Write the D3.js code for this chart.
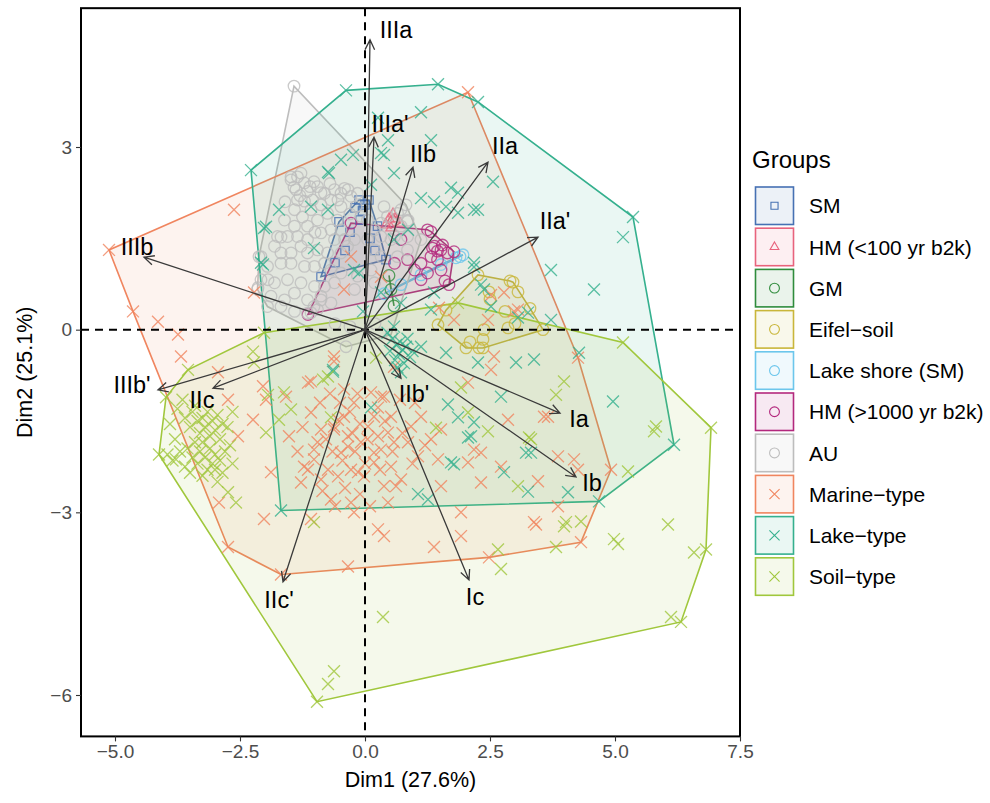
<!DOCTYPE html>
<html>
<head>
<meta charset="utf-8">
<script src="https://cdn.jsdelivr.net/npm/d3@7"></script>
<style>
body { margin: 0; background: #fff; }
text { font-family: "Liberation Sans", Arial, Helvetica, sans-serif; }
</style>
</head>
<body>
<svg width="990" height="803"></svg>
<script>
// ---- data (Dim1, Dim2 scores) ----
var groupNames = ["SM", "HM (<100 yr b2k)", "GM", "Eifel\u2212soil", "Lake shore (SM)",
  "HM (>1000 yr b2k)", "AU", "Marine\u2212type", "Lake\u2212type", "Soil\u2212type"];
var groupColors = ["#4671b3", "#e8637d", "#2f8c3c", "#c9b63a", "#6cc6ec",
  "#b3287d", "#bdbdbd", "#f0855f", "#35b08e", "#a0c73c"];
var groupShapes = ["square", "triangle", "circle", "circle", "circle",
  "circle", "circle", "cross", "cross", "cross"];

var smPts = [[-0.88,0.87],[-0.52,1.77],[-0.12,2.13],[0.08,2.13],[0.42,1.15],[-0.3,1.6],[-0.1,1.8],
  [0.1,1.5],[-0.4,1.3],[0.2,1.3],[-0.05,1.95],[0.0,2.05],[-0.6,1.1],[0.25,1.7],[-0.2,2.0]];
var hmRecentPts = [[0.42,1.72],[0.56,1.90],[0.70,1.75],[0.52,1.67],[0.6,1.82],[0.48,1.82]];
var gmPts = [[0.48,0.89],[0.58,0.39],[0.52,0.66]];
var eifelPts = [[2.26,0.90],[2.96,0.78],[3.06,0.62],[3.56,0.0],[2.36,-0.30],[2.02,-0.30],[1.46,0.08],
  [1.62,0.32],[2.86,0.03],[2.36,-0.16],[2.28,-0.30],[2.38,0.0],[2.48,0.62],[2.5,0.5],[2.8,0.3],
  [3.0,0.1],[2.1,-0.2],[2.9,0.8],[3.3,0.35]];
var shorePts = [[0.38,0.59],[1.96,1.23],[1.82,1.18],[1.52,1.07],[1.12,0.9],[0.72,0.74],[1.9,1.2]];
var hmOldPts = [[-1.14,0.25],[-0.28,1.75],[1.32,1.61],[1.78,1.28],[1.68,0.74],[1.25,1.64],[1.39,1.37],
  [1.52,1.31],[1.32,1.20],[1.45,1.15],[1.65,1.26],[1.12,1.09],[0.99,0.98],[1.25,0.93],[1.52,0.98],
  [1.12,0.82],[0.85,1.15],[0.72,1.48],[1.6,0.8],[0.59,1.09],[1.35,1.34],[1.45,1.29],[1.55,1.39]];
var auPts = [[-1.42,4.0],[-2.14,0.69],[-0.38,-0.28],[0.52,-0.08],[1.12,1.48],[0.82,2.05],
  [-1.48,2.46],[-1.35,2.51],[-1.21,2.41],[-1.38,2.30],[-1.15,2.27],[-0.95,2.35],[-0.81,2.24],
  [-1.05,2.13],[-1.21,2.11],[-1.35,2.13],[-1.41,1.97],[-1.08,1.97],[-0.88,2.05],[-0.68,2.13],
  [-0.61,2.30],[-0.48,2.24],[-0.41,2.32],[-0.28,2.19],[-0.15,2.24],[-0.18,2.02],[-0.48,2.02],
  [-0.75,1.91],[-0.95,1.80],[-1.15,1.70],[-1.41,1.70],[-1.61,1.80],[-1.75,1.53],[-1.55,1.53],
  [-1.35,1.53],[-1.15,1.48],[-0.88,1.59],[-0.68,1.64],[-0.61,1.48],[-0.48,1.64],[-0.41,1.48],
  [-0.21,1.48],[-0.35,1.37],[-0.48,1.26],[-0.75,1.26],[-0.95,1.31],[-1.15,1.26],[-1.28,1.37],
  [-1.48,1.26],[-1.68,1.26],[-1.81,1.37],[-2.08,1.20],[-1.95,1.04],[-1.68,1.09],[-1.48,1.09],
  [-1.21,1.04],[-1.01,1.04],[-0.81,1.09],[-0.68,0.98],[-0.48,0.93],[-0.61,0.77],[-0.81,0.71],
  [-1.01,0.71],[-1.28,0.77],[-1.55,0.82],[-1.81,0.77],[-2.08,0.82],[-2.15,0.66],[-1.88,0.55],
  [-1.61,0.49],[-1.41,0.60],[-1.15,0.49],[-0.88,0.55],[-0.68,0.44],[-0.95,0.33],[-1.15,0.27],
  [-1.41,0.30],[-1.68,0.38],[-1.95,0.38],[0.45,1.86],[0.65,1.91],[0.72,1.70],[0.85,1.78],
  [0.85,1.53],[0.59,1.53],[0.32,1.53],[0.19,1.64],[0.05,1.48],[-0.08,1.86],[0.05,1.80],
  [0.32,1.20],[0.19,1.31],[0.12,0.98],[0.19,0.77],[-0.15,0.88],[-0.21,0.66],[0.52,1.48],
  [0.65,1.20],[0.85,1.31],[-1.48,2.51],[-1.28,2.57],[-1.02,2.43],[-1.42,2.34],[-0.88,2.25],
  [-0.34,2.30],[-0.54,2.13],[-2.12,1.2],[-1.68,1.52],[-1.94,0.82],[-1.02,0.38],[0.72,1.97],
  [0.86,1.8],[0.32,1.75],[0.38,2.02],[-1.08,0.28],[-0.88,0.49],[-0.6,0.1],[-0.3,0.05],[0.2,0.1],
  [-1.3,2.2],[-1.1,2.35],[-0.7,2.4],[-1.25,1.85],[-0.55,1.8],[-1.0,1.6],[-0.3,1.9],[-1.6,2.1]];
var marinePts = [[-5.12,1.31],[2.06,3.90],[4.92,-2.30],[4.32,-3.49],[-1.68,-4.02],[-2.74,-3.57],
  [-2.62,1.97],[-2.22,0.61],[-4.64,0.30],[-4.14,0.13],[-3.74,-0.08],[-0.42,0.66],[-0.28,1.2],
  [-3.68,-0.44],[-2.94,-0.7],[-2.74,-1.15],[-2.24,-1.48],[-2.54,-1.75],[-2.04,-0.93],[-1.98,-1.15],
  [-1.58,-1.10],[-1.52,-1.75],[-1.88,-2.34],[-2.92,-2.84],[-2.02,-3.11],[-1.14,-0.87],[-0.62,-0.44],
  [-1.22,-2.25],[-0.88,-2.46],[-1.28,-2.51],[-1.02,-2.13],[-0.78,-1.80],[-0.62,-1.59],[-0.42,-1.43],
  [-0.34,-1.92],[-0.14,-2.34],[-0.54,-2.41],[0.18,-2.02],[0.32,-1.10],[0.18,-1.43],[0.46,-1.69],
  [0.62,-2.57],[0.26,-3.28],[0.38,-3.39],[-0.34,-3.89],[-0.22,-3.0],[-0.68,-2.79],[-1.08,-3.11],
  [-0.62,-0.52],[-0.42,-0.98],[-0.22,-1.2],[0.26,-1.28],[0.12,-1.03],[0.38,-1.1],[0.52,-1.43],
  [0.92,-1.59],[1.12,-1.43],[1.52,-1.64],[1.32,-1.80],[0.86,-1.85],[0.58,-1.85],[0.32,-1.97],
  [-0.08,-1.85],[-0.34,-1.75],[-0.62,-1.64],[-0.88,-1.64],[-1.02,-1.97],[-1.14,-2.30],[-0.74,-2.30],
  [-0.28,-2.30],[-0.02,-2.41],[0.18,-2.18],[0.52,-2.25],[0.72,-2.46],[0.38,-2.57],[1.06,-2.08],
  [1.46,-2.13],[2.06,-2.18],[2.32,-2.51],[1.52,-2.57],[2.72,-2.25],[3.46,-2.49],[3.86,-2.08],
  [3.58,-1.43],[2.86,-1.48],[2.18,-1.97],[1.92,-3.0],[1.92,-3.39],[1.38,-3.57],[-0.28,-2.84],
  [0.46,-2.84],[3.38,-3.16],[3.86,-2.90],[4.26,-2.30],[-1.08,-1.36],[-0.54,-1.48],[-0.48,-2.02],
  [0.06,-1.59],[0.26,-1.75],[2.52,-0.66],[0.58,-0.61],[3.66,-1.43],[4.26,-0.46],[3.42,-3.20],
  [4.18,-2.13],[2.06,-0.87],[2.58,-0.44],[2.32,-2.02],[2.48,-3.74],[2.52,0.57],[2.78,0.61],
  [3.06,0.33],[2.46,0.16],[1.78,0.16],[-1.08,-0.85],[0.32,0.87],[1.48,0.36],[2.98,0.30],
  [-0.9,-1.2],[-0.7,-1.05],[-0.5,-1.2],[-0.3,-1.35],[-0.1,-1.55],[0.05,-1.8],[-0.2,-2.0],
  [-0.45,-2.15],[-0.65,-2.0],[-0.95,-1.85],[-1.25,-1.6],[-1.35,-2.0],[-0.85,-2.65],[-0.6,-2.9],
  [-0.4,-2.6],[-0.1,-2.7],[0.1,-2.9],[0.3,-2.3],[0.55,-2.0],[0.75,-1.7],[0.95,-2.2],[1.2,-1.9],
  [1.0,-1.2],[0.7,-1.15],[-0.15,-1.05],[0.4,-1.5],[0.0,-2.2],[-0.25,-1.7]];
var lakePts = [[-2.28,2.62],[-0.38,3.93],[1.46,4.03],[5.36,1.85],[6.18,-1.89],[4.68,-2.82],[-1.68,-2.97],
  [2.26,3.74],[1.12,3.57],[0.46,3.11],[0.38,2.87],[1.32,3.11],[-0.48,2.79],[-0.24,2.87],[0.26,3.48],
  [0.32,2.9],[-0.74,2.59],[-1.72,1.97],[-2.02,1.67],[-1.08,2.02],[-0.74,1.97],[-1.02,1.34],
  [-2.04,1.07],[-0.12,0.93],[0.12,2.38],[-1.98,1.69],[-2.08,1.10],[-0.72,2.57],[0.58,2.57],
  [1.12,2.16],[1.38,2.1],[1.72,2.33],[1.86,1.92],[2.18,1.97],[1.62,2.02],[0.32,0.61],[-0.22,0.98],
  [0.58,1.48],[0.86,1.64],[2.18,1.10],[2.32,0.74],[-0.04,0.3],[0.72,0.44],[2.56,2.43],[2.26,1.97],
  [1.86,2.25],[3.72,0.98],[4.58,0.66],[5.16,1.52],[2.38,0.66],[2.52,0.38],[3.72,0.16],[3.26,0.28],
  [2.18,1.03],[1.32,0.33],[1.38,0.61],[3.06,0.2],[4.96,-1.18],[4.28,-0.38],[3.38,-0.49],[3.02,-0.54],
  [2.26,-0.54],[2.72,-1.10],[2.18,-1.52],[2.12,-1.75],[3.22,-2.02],[4.06,-2.67],[3.26,-2.66],
  [2.78,-2.34],[1.72,-2.18],[-0.64,-0.66],[0.12,-1.28],[1.12,-0.28],[1.62,-0.38],[1.66,-1.23],
  [1.86,-1.44],[2.06,-1.77],[1.78,-2.21],[3.32,-2.02],[1.06,-2.70],[1.26,-2.79],[0.55,-0.15],
  [0.62,-0.25],[0.7,-0.2],[0.75,-0.33],[0.68,-0.4],[0.82,-0.28],[0.9,-0.45],[0.6,-0.5],[0.78,-0.55],
  [0.85,-0.15],[0.95,-0.35],[0.65,-0.62],[0.72,-0.7],[0.5,-0.35],[0.45,-0.05],[0.58,0.05],[-0.64,-0.69]];
var soilPts = [[-4.12,-2.05],[-3.98,-1.11],[-3.54,-0.66],[-2.02,-0.05],[1.86,0.44],[5.16,-0.21],
  [6.92,-1.61],[6.82,-3.61],[6.32,-4.80],[-0.96,-6.11],
  [-3.9,-1.55],[-3.75,-1.3],[-3.6,-1.45],[-3.5,-1.6],[-3.45,-1.35],[-3.35,-1.5],[-3.3,-1.7],
  [-3.25,-1.45],[-3.2,-1.6],[-3.15,-1.35],[-3.1,-1.75],[-3.05,-1.5],[-3.0,-1.65],[-2.95,-1.4],
  [-2.9,-1.8],[-2.85,-1.55],[-3.4,-1.85],[-3.55,-1.95],[-3.3,-2.0],[-3.2,-2.1],[-3.1,-1.95],
  [-3.0,-2.05],[-2.9,-2.15],[-3.35,-2.2],[-3.15,-2.3],[-3.0,-2.3],[-2.8,-2.0],[-3.45,-2.1],
  [-3.6,-2.25],[-3.7,-2.0],[-3.8,-1.8],[-3.25,-1.85],[-3.05,-2.2],[-2.85,-2.35],[-2.75,-1.6],
  [-2.7,-1.9],[-3.5,-2.35],[-3.25,-2.4],[-2.95,-2.5],[-3.85,-2.15],[-3.95,-2.05],[-2.65,-1.35],
  [-3.65,-1.15],[-2.65,-2.2],[-3.4,-1.25],[-2.74,-2.67],[-2.58,-2.84],[-3.78,-2.13],
  [-2.24,-0.36],[-2.22,-0.54],[-1.94,-1.07],[-1.62,-1.03],[-1.48,-1.31],[-1.72,-1.48],[-1.98,-1.69],
  [-0.74,-0.77],[-1.02,-3.16],[0.36,-4.72],[-0.62,-5.61],[-0.74,-5.82],[-0.68,-1.44],[1.92,-0.95],
  [2.06,-1.36],[2.46,-1.67],[1.42,-1.61],[3.06,-2.57],[3.32,-1.80],[3.98,-0.85],[4.02,-3.16],
  [3.82,-3.57],[2.66,-3.61],[2.72,-3.93],[3.82,-1.07],[5.82,-1.59],[5.78,-1.67],[5.26,-2.33],
  [6.06,-3.20],[4.98,-3.44],[5.06,-3.52],[4.32,-3.15],[3.98,-3.23],[6.58,-3.66],[6.12,-4.72],
  [3.28,-1.77],[0.22,-0.46],[-0.84,-0.82]];

// variable arrows: tips and label anchors
var varNames = ["IIIa", "IIIa'", "IIb", "IIa", "IIa'", "IIIb", "IIIb'", "IIc", "IIc'", "IIb'", "Ia", "Ib", "Ic"];
var varX = [0.1, 0.18, 0.96, 2.46, 3.46, -4.42, -4.14, -3.04, -1.64, 0.72, 3.9, 4.22, 2.08];
var varY = [4.76, 3.16, 2.67, 2.75, 1.52, 1.19, -0.99, -0.96, -4.14, -0.80, -1.37, -2.42, -4.11];
var labX = [0.62, 0.5, 1.16, 2.8, 3.8, -4.56, -4.66, -3.26, -1.72, 0.98, 4.28, 4.54, 2.2];
var labY = [4.93, 3.39, 2.90, 3.02, 1.80, 1.36, -0.90, -1.15, -4.43, -1.05, -1.46, -2.51, -4.38];

var xTicks = [-5, -2.5, 0, 2.5, 5, 7.5];
var yTicks = [3, 0, -3, -6];
///////////////////////////////////////////

var groupPts = [smPts, hmRecentPts, gmPts, eifelPts, shorePts, hmOldPts, auPts, marinePts, lakePts, soilPts];

var svg = d3.select("svg");
var x = d3.scaleLinear().domain([-5, 7.5]).range([115, 740]);
var y = d3.scaleLinear().domain([3, -6]).range([147, 695]);
var panel = { left: x(-5.68), right: x(7.5), top: y(5.28), bottom: y(-6.68) };

// symbols
function markPath(shape) {
  if (shape == "square") return d3.symbol(d3.symbolSquare, 70)();
  if (shape == "triangle") return d3.symbol(d3.symbolTriangle2, 75)();
  if (shape == "cross") return d3.symbol(d3.symbolTimes, 95)();
  return d3.symbol(d3.symbolCircle, 105)();
}

// hulls
var hullG = svg.append("g");
groupPts.forEach(function (pts, i) {
  var px = pts.map(function (p) { return [x(p[0]), y(p[1])]; });
  var hull = d3.polygonHull(px);
  if (!hull) return;
  hullG.append("path")
    .attr("d", "M" + hull.join("L") + "Z")
    .attr("fill", groupColors[i])
    .attr("fill-opacity", 0.1)
    .attr("stroke", groupColors[i])
    .attr("stroke-width", 1.6);
});

// points
var ptG = svg.append("g");
groupPts.forEach(function (pts, i) {
  ptG.selectAll(null)
    .data(pts)
    .enter().append("path")
    .attr("d", markPath(groupShapes[i]))
    .attr("transform", function (d) { return "translate(" + x(d[0]) + "," + y(d[1]) + ")"; })
    .attr("fill", "none")
    .attr("stroke", groupColors[i])
    .attr("stroke-opacity", 0.8)
    .attr("stroke-width", 1.3);
});

// dashed reference lines
svg.append("line")
  .attr("x1", panel.left).attr("x2", panel.right)
  .attr("y1", y(0)).attr("y2", y(0))
  .attr("stroke", "#000").attr("stroke-width", 2).attr("stroke-dasharray", "8,6");
svg.append("line")
  .attr("x1", x(0)).attr("x2", x(0))
  .attr("y1", panel.top).attr("y2", panel.bottom)
  .attr("stroke", "#000").attr("stroke-width", 2).attr("stroke-dasharray", "8,6");

// arrows
var arrG = svg.append("g");
varNames.forEach(function (name, i) {
  var x0 = x(0), y0 = y(0), x1 = x(varX[i]), y1 = y(varY[i]);
  var a = Math.atan2(y1 - y0, x1 - x0), L = 11, w = 0.45;
  arrG.append("path")
    .attr("d", "M" + x0 + "," + y0 + "L" + x1 + "," + y1 +
      "M" + (x1 - L * Math.cos(a - w)) + "," + (y1 - L * Math.sin(a - w)) +
      "L" + x1 + "," + y1 +
      "L" + (x1 - L * Math.cos(a + w)) + "," + (y1 - L * Math.sin(a + w)))
    .attr("fill", "none")
    .attr("stroke", "#3a3a3a")
    .attr("stroke-width", 1.3);
  arrG.append("text")
    .attr("x", x(labX[i]))
    .attr("y", y(labY[i]))
    .attr("dy", "0.36em")
    .attr("text-anchor", "middle")
    .attr("font-size", 23.5)
    .attr("fill", "#000")
    .text(name);
});

// panel border
svg.append("rect")
  .attr("x", panel.left).attr("y", panel.top)
  .attr("width", panel.right - panel.left).attr("height", panel.bottom - panel.top)
  .attr("fill", "none").attr("stroke", "#000").attr("stroke-width", 2);

// axes
var xAxis = svg.append("g")
  .attr("transform", "translate(0," + panel.bottom + ")")
  .call(d3.axisBottom(x).tickValues(xTicks).tickSize(5).tickPadding(3).tickFormat(d3.format(".1f")));
var yAxis = svg.append("g")
  .attr("transform", "translate(" + panel.left + ",0)")
  .call(d3.axisLeft(y).tickValues(yTicks).tickSize(5).tickPadding(4).tickFormat(d3.format("d")));
[xAxis, yAxis].forEach(function (g) {
  g.select(".domain").remove();
  g.selectAll(".tick line").attr("stroke", "#333").attr("stroke-width", 1.1);
  g.selectAll(".tick text").attr("fill", "#4d4d4d").attr("font-size", 19)
    .style("font-family", '"Liberation Sans", Arial, sans-serif');
});

// axis titles
svg.append("text")
  .attr("x", (panel.left + panel.right) / 2)
  .attr("y", 787)
  .attr("text-anchor", "middle")
  .attr("font-size", 21.5)
  .text("Dim1 (27.6%)");
svg.append("text")
  .attr("transform", "translate(32," + (panel.top + panel.bottom) / 2 + ") rotate(-90)")
  .attr("text-anchor", "middle")
  .attr("font-size", 21.5)
  .text("Dim2 (25.1%)");

// legend
var leg = svg.append("g").attr("transform", "translate(752,0)");
leg.append("text").attr("x", 0).attr("y", 168).attr("font-size", 24).text("Groups");
groupNames.forEach(function (name, i) {
  var top = 187 + i * 41.2;
  leg.append("rect")
    .attr("x", 3.5).attr("y", top)
    .attr("width", 38).attr("height", 37.5)
    .attr("fill", groupColors[i]).attr("fill-opacity", 0.1)
    .attr("stroke", groupColors[i]).attr("stroke-width", 1.6);
  leg.append("path")
    .attr("d", markPath(groupShapes[i]))
    .attr("transform", "translate(22.5," + (top + 18.75) + ") scale(0.85)")
    .attr("fill", "none").attr("stroke", groupColors[i]).attr("stroke-width", 1.3);
  leg.append("text")
    .attr("x", 57).attr("y", top + 18.75).attr("dy", "0.36em")
    .attr("font-size", 21)
    .text(name);
});
</script>
</body>
</html>
